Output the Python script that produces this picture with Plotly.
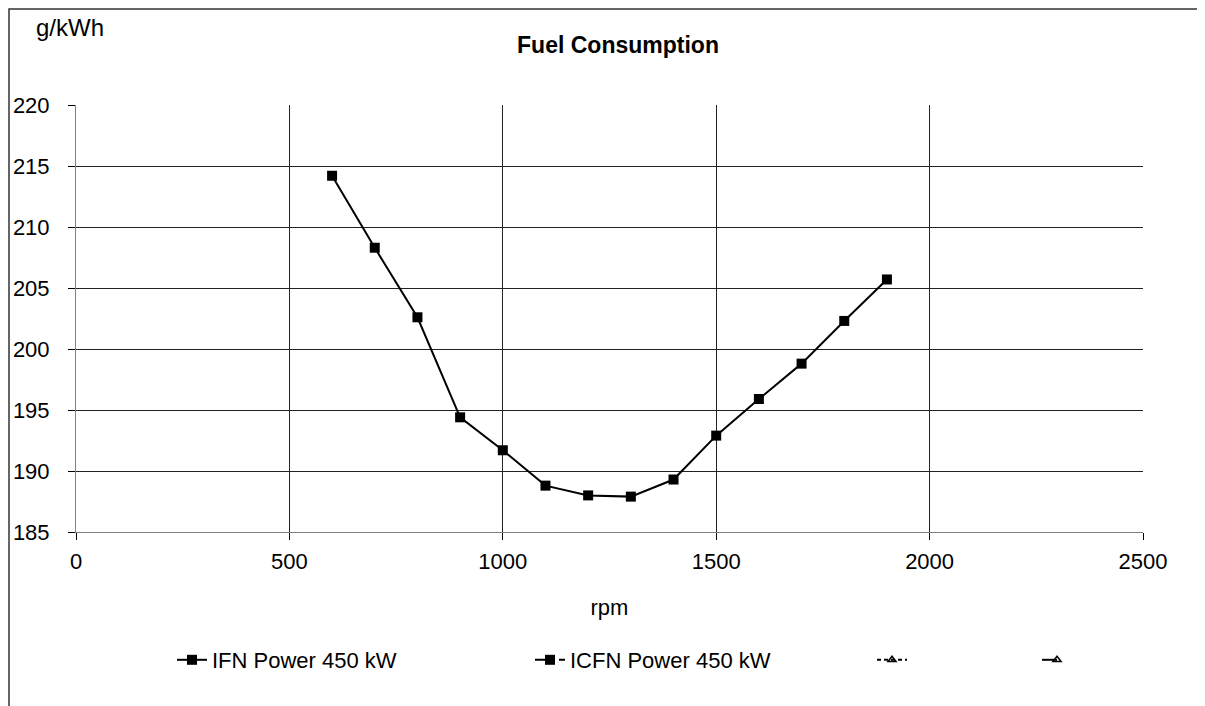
import plotly.graph_objects as go

rpm = [600, 700, 800, 900, 1000, 1100, 1200, 1300, 1400, 1500, 1600, 1700, 1800, 1900]
ifn_power_450 = [214.2, 208.3, 202.6, 194.4, 191.7, 188.8, 188.0, 187.9, 189.3, 192.9, 195.9, 198.8, 202.3, 205.7]
icfn_rpm = [None]
icfn_power_450 = [None]
series_names = ["IFN Power 450 kW", "ICFN Power 450 kW", " ", " "]
x_ticks = [0, 500, 1000, 1500, 2000, 2500]
y_ticks = [185, 190, 195, 200, 205, 210, 215, 220]

FONT = "Liberation Sans, Arial, sans-serif"
OFF = 8  # body margin of the page
W, H = 1205 - OFF, 706 - OFF
PL, PR, PT, PB = 76, 1143, 105, 532  # plot area in screen pixels
L, R, T, B = PL - OFF, W - (PR - OFF), PT - OFF, H - (PB - OFF)
pw, ph = W - L - R, H - T - B

def px_x(p):
    return (p - PL) / pw

def px_y(p):
    return (PB - p) / ph

fig = go.Figure()
fig.add_trace(go.Scatter(
    x=rpm, y=ifn_power_450, name=series_names[0], mode="lines+markers",
    line=dict(color="black", width=2),
    marker=dict(symbol="square", size=10, color="black"),
    legend="legend"))
fig.add_trace(go.Scatter(
    x=icfn_rpm, y=icfn_power_450, name=series_names[1], mode="lines+markers",
    line=dict(color="black", width=2, dash="10px,5px,4px,5px"),
    marker=dict(symbol="square", size=10, color="black"),
    legend="legend2"))
fig.add_trace(go.Scatter(
    x=[None], y=[None], name=series_names[2], mode="lines+markers",
    line=dict(color="black", width=2, dash="4px,3px"),
    marker=dict(symbol="triangle-up-open", size=7, color="black", line=dict(width=1.5)),
    legend="legend3"))
fig.add_trace(go.Scatter(
    x=[None], y=[None], name=series_names[3], mode="lines+markers",
    line=dict(color="black", width=2, dash="longdash"),
    marker=dict(symbol="triangle-up-open", size=7, color="black", line=dict(width=1.5)),
    legend="legend4"))

leg_common = dict(orientation="h", yanchor="middle", xanchor="left",
                  font=dict(family=FONT, size=22, color="black"),
                  bgcolor="rgba(0,0,0,0)")

fig.update_layout(
    width=W, height=H,
    margin=dict(l=L, r=R, t=T, b=B, autoexpand=False),
    paper_bgcolor="white", plot_bgcolor="white",
    font=dict(family=FONT, size=22, color="black"),
    title=dict(text="<b>Fuel Consumption</b>", x=px_x(618), xref="paper", xanchor="center",
               y=1 - (45 - OFF) / H, yanchor="middle", font=dict(family=FONT, size=23, color="black")),
    xaxis=dict(range=[0, 2500], tickvals=x_ticks, showgrid=True, gridcolor="#222", gridwidth=1,
               zeroline=False, showline=True, linecolor="#808080", linewidth=1, automargin=False,
               ticks="outside", ticklen=7, tickcolor="black", ticklabelstandoff=3,
               tickfont=dict(family=FONT, size=22, color="black"),
               title=dict(text="rpm", font=dict(family=FONT, size=22, color="black"), standoff=26)),
    yaxis=dict(range=[185, 220], tickvals=y_ticks, showgrid=True, gridcolor="#222", gridwidth=1,
               zeroline=False, showline=True, linecolor="#808080", linewidth=1, automargin=False,
               ticks="outside", ticklen=7, tickcolor="black", ticklabelstandoff=14,
               tickfont=dict(family=FONT, size=22, color="black")),
    legend=dict(x=px_x(172), y=px_y(660), **leg_common),
    legend2=dict(x=px_x(530), y=px_y(660), **leg_common),
    legend3=dict(x=px_x(872), y=px_y(660), **leg_common),
    legend4=dict(x=px_x(1037), y=px_y(660), **leg_common),
    showlegend=True,
)

fig.add_annotation(text="g/kWh", xref="paper", yref="paper", x=px_x(70), y=px_y(27),
                   xanchor="center", yanchor="middle", showarrow=False,
                   font=dict(family=FONT, size=24, color="black"))

fig.add_shape(type="rect", xref="paper", yref="paper",
              x0=px_x(OFF + 1), x1=px_x(1260), y0=px_y(760), y1=px_y(OFF + 1),
              line=dict(color="#333", width=1.5), fillcolor="rgba(0,0,0,0)", layer="below")

fig.write_html("out.html")
